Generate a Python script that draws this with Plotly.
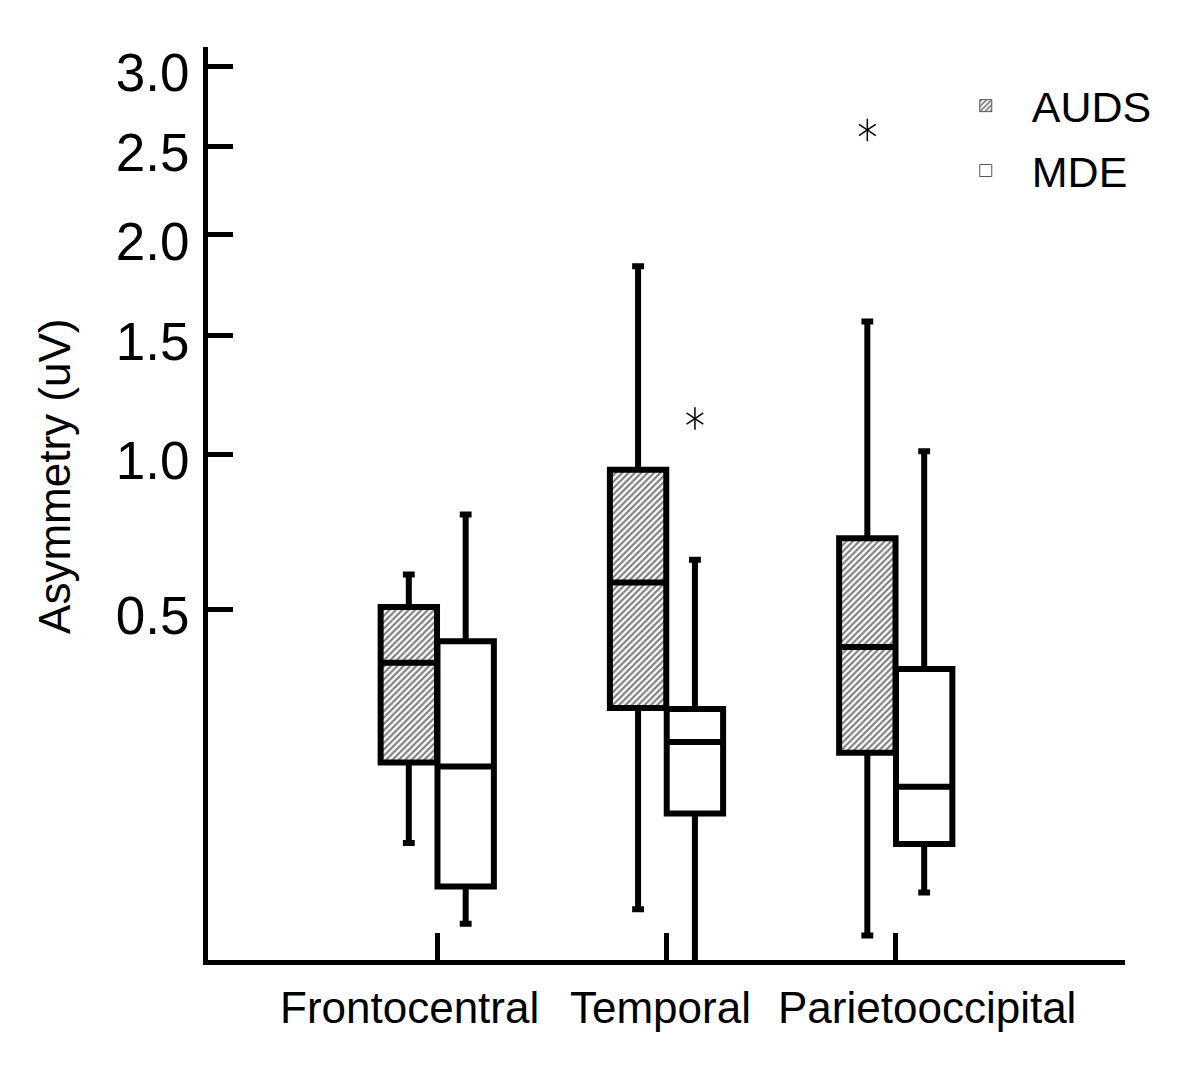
import numpy as np
import plotly.graph_objects as go

# ---------------- data (values in uV) ----------------
categories = ["Frontocentral", "Temporal", "Parietooccipital"]
series_names = ["AUDS", "MDE"]

auds_lower = [0.071, 0.020, 0.0085]
auds_q1 = [0.175, 0.272, 0.191]
auds_median = [0.368, 0.575, 0.405]
auds_q3 = [0.507, 0.943, 0.709]
auds_upper = [0.598, 1.836, 1.565]

mde_lower = [0.013, 0.0, 0.030]
mde_q1 = [0.034, 0.104, 0.070]
mde_median = [0.169, 0.209, 0.139]
mde_q3 = [0.419, 0.270, 0.354]
mde_upper = [0.786, 0.642, 1.012]

auds_outlier_cat = [2]
auds_outlier_val = [2.60]
mde_outlier_cat = [1]
mde_outlier_val = [1.14]

ytick_values = [0.5, 1.0, 1.5, 2.0, 2.5, 3.0]
ytick_labels = ["0.5", "1.0", "1.5", "2.0", "2.5", "3.0"]

# ---------------- styling ----------------
FONT = "Liberation Sans, Arial, sans-serif"
BOX_W = 0.246
OFF = 0.124
LW = 6

def sq(v):
    return np.sqrt(np.asarray(v, dtype=float))

idx = np.arange(len(categories), dtype=float)
x_auds = idx - OFF
x_mde = idx + OFF

fig = go.Figure()

# hatched / plain fills (bars underneath the box outlines)
fig.add_trace(go.Bar(
    x=x_auds, base=sq(auds_q1), y=sq(auds_q3) - sq(auds_q1), width=BOX_W,
    name="AUDS", legendgroup="a",
    marker=dict(color="white", line=dict(color="#555", width=1),
                pattern=dict(shape="/", size=4.5, solidity=0.48, fgcolor="black", bgcolor="white")),
    hoverinfo="skip",
))
fig.add_trace(go.Bar(
    x=x_mde, base=sq(mde_q1), y=sq(mde_q3) - sq(mde_q1), width=BOX_W,
    name="MDE", legendgroup="b",
    marker=dict(color="white", line=dict(color="#555", width=1)),
    hoverinfo="skip",
))

# box outlines, medians, whiskers
for xs, lo, q1, med, q3, hi in [
    (x_auds, auds_lower, auds_q1, auds_median, auds_q3, auds_upper),
    (x_mde, mde_lower, mde_q1, mde_median, mde_q3, mde_upper),
]:
    fig.add_trace(go.Box(
        x=xs, lowerfence=sq(lo), q1=sq(q1), median=sq(med), q3=sq(q3), upperfence=sq(hi),
        width=BOX_W, whiskerwidth=0.21, fillcolor="rgba(0,0,0,0)",
        line=dict(color="black", width=LW), showlegend=False, boxpoints=False,
        hoverinfo="skip",
    ))

# outliers (six-armed asterisks)
out_x = np.concatenate([np.asarray(auds_outlier_cat, float) - OFF, np.asarray(mde_outlier_cat, float) + OFF])
out_y = sq(auds_outlier_val + mde_outlier_val)
for sym in ["y-up-open", "y-down-open"]:
    fig.add_trace(go.Scatter(
        x=out_x, y=out_y, mode="markers", showlegend=False, hoverinfo="skip",
        marker=dict(symbol=sym, size=14, color="black", line=dict(color="black", width=1.5)),
    ))

# category labels
label_x = [-0.122, 0.972, 2.135]
for cat, lx in zip(categories, label_x):
    fig.add_annotation(x=lx, xref="x", y=-0.0515, yref="paper", text=cat, showarrow=False,
                       xanchor="center", yanchor="middle", font=dict(size=44, color="black", family=FONT))

# y title
fig.add_annotation(x=-0.1676, xref="paper", y=0.5295, yref="paper", text="Asymmetry (uV)",
                   textangle=-90, showarrow=False, xanchor="center", yanchor="middle",
                   font=dict(size=44, color="black", family=FONT))

fig.update_layout(
    width=1200, height=1070,
    margin=dict(l=208, r=75, t=47, b=109.5),
    paper_bgcolor="white", plot_bgcolor="white",
    boxmode="overlay", barmode="overlay",
    font=dict(family=FONT, color="black"),
    legend=dict(x=0.798, y=0.9735, xanchor="left", yanchor="top", bgcolor="rgba(0,0,0,0)",
                font=dict(size=43, family=FONT, color="black"), itemwidth=82,
                traceorder="grouped", tracegroupgap=6),
    xaxis=dict(range=[-1, 3], showgrid=False, zeroline=False, showline=True, linecolor="black",
               linewidth=5, tickvals=idx, ticks="inside", ticklen=27, tickwidth=5, tickcolor="black",
               showticklabels=False),
    yaxis=dict(range=[0.0458, 1.769], showgrid=False, zeroline=False, showline=True, linecolor="black",
               linewidth=5, tickvals=sq(ytick_values), ticktext=ytick_labels, ticks="inside",
               ticklen=25, tickwidth=5, tickcolor="black", ticklabelstandoff=3, ticklabelshift=6,
               tickfont=dict(size=53, family=FONT, color="black")),
)

fig.write_html("out.html", config={"displayModeBar": False},
               post_script="document.body.style.margin='0px';")
